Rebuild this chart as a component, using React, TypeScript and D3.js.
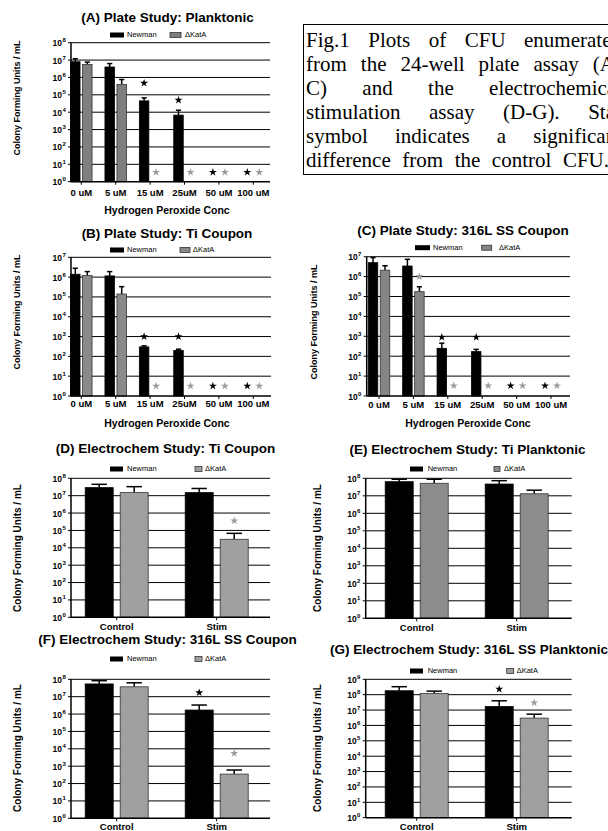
import React, { useMemo } from "react";
import * as d3 from "d3";

// ---- data (CFU / mL) ----
const plateDoses = ["0 uM", "5 uM", "15 uM", "25uM", "50 uM", "100 uM"];
const stimGroups = ["Control", "Stim"];
const seriesNames = ["Newman", "\u0394KatA"];

// (A) plate planktonic
const aNewman = [8e6, 4e6, 4.5e4, 6.8e3, 0, 0];
const aNewmanUp = [1.2e7, 6.3e6, 6.7e4, 1.3e4, 0, 0];
const aKatA = [5.6e6, 4e5, 0, 0, 0, 0];
const aKatAUp = [7.6e6, 7.6e5, 0, 0, 0, 0];
const aNewmanStar = [null, null, 4.7e5, 5e4, 3.5, 3.5];
const aKatAStar = [null, null, 3.5, 3.5, 3.5, 3.5];

// (B) plate Ti coupon
const bNewman = [1.4e6, 1.15e6, 3e2, 2e2, 0, 0];
const bNewmanUp = [2.8e6, 1.9e6, 3.4e2, 2.3e2, 0, 0];
const bKatA = [1.2e6, 1.4e5, 0, 0, 0, 0];
const bKatAUp = [1.9e6, 3.3e5, 0, 0, 0, 0];
const bNewmanStar = [null, null, 1e3, 1e3, 3.2, 3.2];
const bKatAStar = [null, null, 3.2, 3.2, 3.2, 3.2];

// (C) plate 316L SS coupon
const cNewman = [5e6, 3.4e6, 2.5e2, 1.7e2, 0, 0];
const cNewmanUp = [9e6, 7.4e6, 4.5e2, 2.2e2, 0, 0];
const cKatA = [2.1e6, 1.75e5, 0, 0, 0, 0];
const cKatAUp = [3.5e6, 3.1e5, 0, 0, 0, 0];
const cNewmanStar = [null, null, 9e2, 9e2, 3.3, 3.3];
const cKatAStar = [null, 1e6, 3.3, 3.3, 3.3, 3.3];

// (D) electrochem Ti coupon
const dNewman = [2.9e7, 1.5e7];
const dNewmanUp = [4.5e7, 2.6e7];
const dKatA = [1.5e7, 3.1e4];
const dKatAUp = [3.3e7, 6.8e4];
const dNewmanStar = [null, null];
const dKatAStar = [null, 3.6e5];

// (E) electrochem Ti planktonic
const eNewman = [6.4e7, 4.7e7];
const eNewmanUp = [8.8e7, 7.3e7];
const eKatA = [5.2e7, 1.3e7];
const eKatAUp = [8.8e7, 2.1e7];
const eNewmanStar = [null, null];
const eKatAStar = [null, null];

// (F) electrochem 316L SS coupon
const fNewman = [5.4e7, 1.7e6];
const fNewmanUp = [8.3e7, 3.3e6];
const fKatA = [3.7e7, 3.5e2];
const fKatAUp = [6.3e7, 6e2];
const fNewmanStar = [null, 1.7e7];
const fKatAStar = [null, 5.5e3];

// (G) electrochem 316L SS planktonic
const gNewman = [1.8e8, 1.7e7];
const gNewmanUp = [3.3e8, 4e7];
const gKatA = [1.2e8, 3e6];
const gKatAUp = [1.7e8, 5.4e6];
const gNewmanStar = [null, 2.3e8];
const gKatAStar = [null, 3e7];

const captionLines = [
  "Fig.1 Plots of CFU enumerated",
  "from the 24-well plate assay (A-",
  "C) and the electrochemical",
  "stimulation assay (D-G). Star",
  "symbol indicates a significant",
  "difference from the control CFU.",
];

const SANS = "'Liberation Sans', Arial, sans-serif";
const SERIF = "'Liberation Serif', 'Times New Roman', serif";

function Panel({ cfg, groups, newman, newmanUp, katA, katAUp, newmanStar, katAStar }) {
  const y = d3.scaleLog().domain([1, Math.pow(10, cfg.maxExp)]).range([cfg.yBot, cfg.yTop]);
  const x = d3.scalePoint().domain(groups).range([cfg.c0, cfg.c1]);
  const exps = d3.range(0, cfg.maxExp + 1);
  const star = d3.symbol(d3.symbolStar, cfg.starSize || 20)();
  const series = [
    { vals: newman, up: newmanUp, stars: newmanStar, fill: "#000", stroke: "#000", starFill: "#000", off: -(cfg.gap / 2 + cfg.barW) },
    { vals: katA, up: katAUp, stars: katAStar, fill: cfg.gray, stroke: "#333", starFill: "#9a9a9a", off: cfg.gap / 2 },
  ];
  const capW = cfg.barW * 0.55;
  return (
    <g fontFamily={SANS}>
      <text x={cfg.titleX} y={cfg.titleY} textAnchor="middle" dominantBaseline="middle" fontWeight="bold" fontSize={13.5}>
        {cfg.title}
      </text>
      {/* legend */}
      <rect x={cfg.leg[0]} y={cfg.legendY - 2.5} width={cfg.leg[1]} height={5} fill="#000" />
      <text x={cfg.leg[2]} y={cfg.legendY} dominantBaseline="middle" fontSize={7.5}>{seriesNames[0]}</text>
      <rect x={cfg.leg[3]} y={cfg.legendY - 2.5} width={cfg.leg[4]} height={5} fill={cfg.gray} stroke="#333" strokeWidth={0.8} />
      <text x={cfg.leg[5]} y={cfg.legendY} dominantBaseline="middle" fontSize={7.5}>{seriesNames[1]}</text>
      {/* gridlines */}
      {exps.slice(1).map((e) => (
        <line key={"g" + e} x1={cfg.x0} x2={cfg.x1} y1={y(Math.pow(10, e))} y2={y(Math.pow(10, e))} stroke="#000" strokeWidth={1} />
      ))}
      {/* bars */}
      {series.map((s, si) =>
        groups.map((g, i) => {
          const v = s.vals[i];
          const bx = x(g) + s.off;
          return (
            <g key={si + "-" + i}>
              {v > 0 && (
                <>
                  <line x1={bx + cfg.barW / 2} x2={bx + cfg.barW / 2} y1={y(v)} y2={y(s.up[i])} stroke="#000" strokeWidth={1.5} />
                  <line x1={bx + cfg.barW / 2 - capW / 2} x2={bx + cfg.barW / 2 + capW / 2} y1={y(s.up[i])} y2={y(s.up[i])} stroke="#000" strokeWidth={1.5} />
                  <rect x={bx} y={y(v)} width={cfg.barW} height={cfg.yBot - y(v)} fill={s.fill} stroke={s.stroke} strokeWidth={0.8} />
                </>
              )}
              {s.stars[i] != null && (
                <path d={star} transform={`translate(${bx + cfg.barW / 2},${y(s.stars[i])})`} fill={s.starFill} />
              )}
            </g>
          );
        })
      )}
      {/* axes */}
      <line x1={cfg.x0} x2={cfg.x0} y1={cfg.yTop} y2={cfg.yBot} stroke="#000" strokeWidth={1.5} />
      <line x1={cfg.x0} x2={cfg.x1} y1={cfg.yBot} y2={cfg.yBot} stroke="#000" strokeWidth={1.5} />
      {exps.map((e) => (
        <g key={"t" + e}>
          <line x1={cfg.x0 - 3} x2={cfg.x0} y1={y(Math.pow(10, e))} y2={y(Math.pow(10, e))} stroke="#000" strokeWidth={1} />
          <text x={cfg.x0 - 9} y={y(Math.pow(10, e)) + 3.5} textAnchor="end" fontWeight="bold" fontSize={8.5}>10</text>
          <text x={cfg.x0 - 8.6} y={y(Math.pow(10, e)) - 0.5} fontWeight="bold" fontSize={6}>{e}</text>
        </g>
      ))}
      {groups.map((g) => (
        <g key={"x" + g}>
          <line x1={x(g)} x2={x(g)} y1={cfg.yBot} y2={cfg.yBot + 3} stroke="#000" strokeWidth={1} />
          <text x={x(g)} y={cfg.xLabelY} textAnchor="middle" dominantBaseline="middle" fontWeight="bold" fontSize={9.5}>{g}</text>
        </g>
      ))}
      {cfg.xTitle && (
        <text x={cfg.xTitleX} y={cfg.xTitleY} textAnchor="middle" dominantBaseline="middle" fontWeight="bold" fontSize={10.5}>
          {cfg.xTitle}
        </text>
      )}
      <text transform={`translate(${cfg.yTitleX},${cfg.yTitleY}) rotate(-90)`} textAnchor="middle" dominantBaseline="middle" fontWeight="bold" fontSize={cfg.yTitleSize}>
        Colony Forming Units / mL
      </text>
    </g>
  );
}

const plateCommon = { barW: 9.5, gap: 2.5, yTitleSize: 9, xTitle: "Hydrogen Peroxide Conc", starSize: 20 };
const stimCommon = { barW: 28, gap: 7, yTitleSize: 10, starSize: 20 };

const cfgA = { ...plateCommon, title: "(A) Plate Study: Planktonic", titleX: 167.5, titleY: 18, x0: 71, x1: 270, yTop: 42.7, yBot: 181.7, maxExp: 8, c0: 81.3, c1: 253.3, legendY: 35, leg: [110, 14, 127, 170, 11, 185], xLabelY: 193, xTitleX: 167, xTitleY: 211.7, yTitleX: 18, yTitleY: 98, gray: "#7f7f7f" };
const cfgB = { ...plateCommon, title: "(B) Plate Study: Ti Coupon", titleX: 167, titleY: 234, x0: 71, x1: 271, yTop: 257.3, yBot: 396, maxExp: 7, c0: 81.3, c1: 253.3, legendY: 250, leg: [110, 14, 127, 180, 10, 193], xLabelY: 404, xTitleX: 167, xTitleY: 424, yTitleX: 18, yTitleY: 312, gray: "#8a8a8a" };
const cfgC = { ...plateCommon, title: "(C) Plate Study: 316L SS Coupon", titleX: 463, titleY: 231.7, x0: 366.7, x1: 570, yTop: 256.7, yBot: 396, maxExp: 7, c0: 379, c1: 551, legendY: 247.7, leg: [415, 15, 433, 481.7, 10, 499], xLabelY: 405, xTitleX: 468, xTitleY: 424, yTitleX: 315, yTitleY: 322, gray: "#858585" };
const cfgD = { ...stimCommon, title: "(D) Electrochem Study: Ti Coupon", titleX: 165.5, titleY: 449.3, x0: 71, x1: 270, yTop: 478.3, yBot: 617.3, maxExp: 8, c0: 116.7, c1: 216.7, legendY: 469, leg: [110, 13, 127, 195, 7, 205], xLabelY: 627, yTitleX: 18, yTitleY: 548, gray: "#a0a0a0" };
const cfgE = { ...stimCommon, title: "(E) Electrochem Study: Ti Planktonic", titleX: 467.5, titleY: 450.7, x0: 365.7, x1: 571.7, yTop: 478.3, yBot: 618.3, maxExp: 8, c0: 416.7, c1: 516.7, legendY: 469, leg: [410, 13, 427.7, 494, 6, 504], xLabelY: 628, yTitleX: 318, yTitleY: 548, gray: "#8c8c8c" };
const cfgF = { ...stimCommon, title: "(F) Electrochem Study: 316L SS Coupon", titleX: 167.5, titleY: 640.7, x0: 71, x1: 270, yTop: 679.3, yBot: 818.3, maxExp: 8, c0: 116.7, c1: 216.7, legendY: 659, leg: [110, 13, 127, 195, 7, 205], xLabelY: 827, yTitleX: 18, yTitleY: 748, gray: "#a0a0a0" };
const cfgG = { ...stimCommon, title: "(G) Electrochem Study: 316L SS Planktonic", titleX: 469, titleY: 650.7, x0: 365.7, x1: 571.7, yTop: 679.3, yBot: 817.7, maxExp: 9, c0: 416.7, c1: 516.7, legendY: 671, leg: [410, 13, 427.7, 506.7, 7, 516.7], xLabelY: 827, yTitleX: 318, yTitleY: 748, gray: "#a0a0a0" };

function Caption() {
  const left = 306;
  const right = 622;
  const lastRight = 609;
  const fontSize = 21;
  const lineH = 24;
  const firstY = 47;
  const lines = useMemo(() => {
    const ctx = document.createElement("canvas").getContext("2d");
    ctx.font = `${fontSize}px 'Liberation Serif'`;
    return captionLines.map((ln, li) => {
      const words = ln.split(" ");
      const ws = words.map((w) => ctx.measureText(w).width);
      const r = li === captionLines.length - 1 ? lastRight : right;
      const gapW = (r - left - d3.sum(ws)) / (words.length - 1);
      let cx = left;
      return words.map((w, i) => {
        const item = { w, x: cx };
        cx += ws[i] + gapW;
        return item;
      });
    });
  }, []);
  return (
    <g fontFamily={SERIF} fontSize={fontSize}>
      <rect x={303.5} y={24.5} width={400} height={150} fill="none" stroke="#000" strokeWidth={1} />
      {lines.map((ws, li) => (
        <text key={li} y={firstY + li * lineH}>
          {ws.map((it, i) => (
            <tspan key={i} x={it.x}>{it.w}</tspan>
          ))}
        </text>
      ))}
    </g>
  );
}

export default function App() {
  return (
    <svg width={608} height={831} style={{ position: "absolute", left: 0, top: 0, background: "#fff" }}>
      <rect width={608} height={831} fill="#fff" />
      <Caption />
      <Panel cfg={cfgA} groups={plateDoses} newman={aNewman} newmanUp={aNewmanUp} katA={aKatA} katAUp={aKatAUp} newmanStar={aNewmanStar} katAStar={aKatAStar} />
      <Panel cfg={cfgB} groups={plateDoses} newman={bNewman} newmanUp={bNewmanUp} katA={bKatA} katAUp={bKatAUp} newmanStar={bNewmanStar} katAStar={bKatAStar} />
      <Panel cfg={cfgC} groups={plateDoses} newman={cNewman} newmanUp={cNewmanUp} katA={cKatA} katAUp={cKatAUp} newmanStar={cNewmanStar} katAStar={cKatAStar} />
      <Panel cfg={cfgD} groups={stimGroups} newman={dNewman} newmanUp={dNewmanUp} katA={dKatA} katAUp={dKatAUp} newmanStar={dNewmanStar} katAStar={dKatAStar} />
      <Panel cfg={cfgE} groups={stimGroups} newman={eNewman} newmanUp={eNewmanUp} katA={eKatA} katAUp={eKatAUp} newmanStar={eNewmanStar} katAStar={eKatAStar} />
      <Panel cfg={cfgF} groups={stimGroups} newman={fNewman} newmanUp={fNewmanUp} katA={fKatA} katAUp={fKatAUp} newmanStar={fNewmanStar} katAStar={fKatAStar} />
      <Panel cfg={cfgG} groups={stimGroups} newman={gNewman} newmanUp={gNewmanUp} katA={gKatA} katAUp={gKatAUp} newmanStar={gNewmanStar} katAStar={gKatAStar} />
    </svg>
  );
}
